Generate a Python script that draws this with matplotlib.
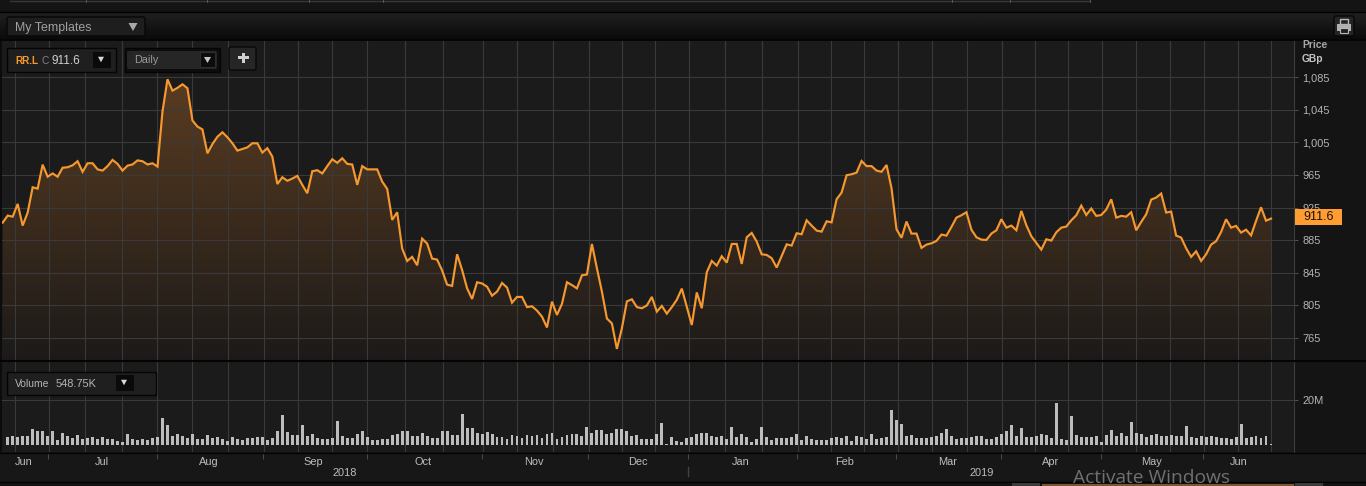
import numpy as np
import matplotlib
matplotlib.use('Agg')
import matplotlib.pyplot as plt
from matplotlib.patches import Rectangle, Polygon, FancyBboxPatch
from matplotlib.ticker import FuncFormatter

plt.rcParams['font.family'] = ['Liberation Sans', 'DejaVu Sans']

# closing prices (GBp)
price_a = [906.7, 915.3, 914, 929.6, 903, 919, 950, 948.4, 977.8, 963, 967, 963, 974, 974.6, 977, 982,
           969, 979.5, 979.5, 972, 970.5, 976, 983.6, 978.7, 970.5, 976.6, 978, 983, 982, 978, 979.5, 975.4,
           1043, 1082.5, 1068.6, 1072, 1076.4, 1071.5, 1032, 1024.5, 1021, 991.7, 1003, 1012, 1017.5, 1011.4,
           1004, 995, 997, 999, 1004, 1004, 992.6, 998, 987.7, 954, 962.3, 958, 960.7, 964, 953, 942.7,
           969.7, 971, 967, 976, 984.4, 980, 985.6, 978.7, 978, 953, 976, 972, 972, 972, 957, 948, 910, 919.4]
price_b = [874.8, 859.6, 864.6, 854.3, 887, 881, 862.5, 861.3, 848, 830.6, 829]
price_c = [867.8, 848.6, 826, 813, 833.5, 832, 828, 817, 822, 832.6, 827, 808.5, 815.5, 815.5, 803, 804,
           798.7, 791.3, 778, 809.7, 793.4, 807, 833.5, 830, 826, 842, 843, 880.5, 850.6, 822, 789, 783,
           751.7, 777, 810, 812.6, 803, 801.6, 805, 815.5, 797.5, 804.4, 795, 803, 812, 825.7, 803.6, 781,
           821, 801.6, 845.7, 859.6, 854, 865.4, 857.6, 880.5, 880.5, 856, 888.7, 894, 883.4, 867.8, 867,
           863, 851.5, 865.8, 880, 878.5, 893.6, 892.4, 909.5, 903, 896.9, 895.6, 908.3, 907, 935.3, 943.5,
           964.8, 966, 968, 982.3, 976, 976, 970.5, 969, 977.4, 948.8, 898.5, 888, 908]
price_d = [893.2, 893.2, 875.6, 879.7, 881.3, 884.2, 892, 890.7, 901.4, 912.8, 915.7, 919.4, 898, 888.7,
           885.8, 885.4, 893.2, 897.3, 910.8, 900.5, 903, 897.3, 921, 903.4, 889.9, 881.7, 873.5, 886.2,
           884.6, 894.8, 900.5, 901.8, 909.5, 915.7, 927.5, 916, 923.9, 914.9, 916, 922.6, 935.3, 912.8,
           914.9, 914, 919.4, 897.3, 907.5, 916.9, 934.9, 937.4, 942.3, 919, 920.2, 890.7, 888.3, 875.2,
           864.6, 871.5, 859.6, 867.8, 879.7, 883.8, 895.2, 910.8, 900.5, 902.6, 894.4, 898, 891, 908.7,
           925.5, 909, 911.6]
prices = price_a + price_b + price_c + price_d

# volume, millions of shares, first bar sits under the second price point
vol_a = [3.4, 4.0, 3.7, 4.0, 4.0, 7.2, 6.4, 6.3, 4.2, 6.4, 2.2, 5.5, 3.9, 3.1, 4.6, 2.5, 3.1, 3.6, 2.8, 3.4,
         2.7, 2.5, 1.9, 1.3, 4.8, 2.8, 2.2, 2.8, 2.2, 3.3, 3.6, 11.9, 8.9, 4.0, 5.1, 4.0, 3.1, 4.8, 2.5, 2.8,
         4.3, 3.0, 3.6, 2.5, 1.9, 3.4, 2.5, 2.1, 3.0, 3.0, 3.6, 3.7, 2.1, 3.0, 6.4, 13.4, 5.8, 4.3, 4.3, 8.8,
         4.0, 5.1, 3.0, 2.7, 2.8, 3.0, 10.7, 3.9, 3.0, 3.1, 5.1, 6.1, 3.4, 2.4, 2.2, 2.5, 2.7, 4.5, 4.9, 6.4,
         6.4, 3.9, 4.0, 5.2, 4.0, 3.3, 3.1, 6.3, 6.4, 4.5]
vol_b = [4.3, 13.7, 7.5, 7.5, 5.4, 4.8, 5.7, 4.9, 3.4, 3.4, 2.8, 4.6, 3.9, 3.0, 4.3, 4.0, 4.3, 3.0, 4.8, 5.4,
         2.7, 3.4, 4.6, 4.8, 4.9, 3.9, 8.0, 5.2, 6.9, 6.7, 4.8, 5.2, 7.2, 7.3, 6.4, 4.0, 4.3, 2.7, 2.5, 2.5,
         4.9, 9.7, 0.4, 3.4, 1.9, 1.3, 3.0, 3.4, 4.9, 5.2, 5.4, 4.0, 3.4, 3.9, 2.5, 7.9, 3.6, 4.8, 3.6, 1.5,
         2.5, 7.9, 3.4, 2.2, 3.0, 3.0, 3.0, 3.6, 4.9, 2.2, 3.9, 2.8, 2.4, 2.2, 2.2, 3.0, 3.7, 3.0, 3.9, 1.9,
         4.0, 3.7, 2.8, 4.9, 2.8, 3.3, 3.4, 15.5, 11.2, 9.4, 4.0]
vol_c = [4.3, 3.1, 3.1, 3.1, 3.4, 3.9, 5.2, 7.2, 4.0, 2.5, 3.0, 3.0, 3.7, 4.2, 4.2, 2.5, 2.5, 3.6, 4.9, 6.4,
         9.1, 4.0, 7.6, 3.7, 3.4, 4.0, 4.8, 4.3, 3.0, 18.6, 2.8, 2.2, 12.8, 4.5, 3.6, 3.4, 3.4, 4.0, 1.5, 4.5,
         6.7, 4.2, 5.4, 4.0, 10.1, 5.4, 4.9, 3.7, 4.3, 5.1, 4.0, 4.0, 4.3, 4.2, 4.0, 8.3, 3.6, 3.3, 4.2, 3.6,
         3.9, 3.6, 3.1, 3.0, 2.5, 3.4, 9.4, 3.0, 3.4, 4.2, 3.3, 4.0, 0.4]
volumes = vol_a + vol_b + vol_c

price_ticks = [765, 805, 845, 885, 925, 965, 1005, 1045, 1085]
# weekly grid and month boundaries, as positions on the trading day axis
grid_days = [2.5, 9.3, 16.5, 23.8, 31, 38, 45.1, 52.4, 59.2, 66, 73, 80.6, 88.2, 96.1, 103, 110.3, 117.5, 124.1,
             130.7, 137.5, 144.7, 152, 159.2, 165.8, 172.4, 179.2, 186.2, 193.2, 200.2, 206.8, 213.4, 220.2,
             227, 233.8, 240.6, 247.3, 254]
month_days = [9.1, 30.9, 52.1, 73, 95.9, 117.2, 137.2, 159, 179, 200, 220, 240.3]
month_label_days = [4.3, 19.8, 41.3, 62.3, 84.2, 106.4, 127.2, 147.9, 168.7, 189.3, 209.8, 230, 247.6]
month_labels = ['Jun', 'Jul', 'Aug', 'Sep', 'Oct', 'Nov', 'Dec', 'Jan', 'Feb', 'Mar', 'Apr', 'May', 'Jun']
year_days = [68.4, 196]
year_labels = ['2018', '2019']

W, H = 1366, 486
ORANGE = '#f7982f'
GRID = '#3a3a3a'
TXT = '#b4b4b4'


def px_axes(x0, y0, x1, y1, **kw):
    # axes from pixel box, y counted from the top
    return fig.add_axes([x0 / W, 1 - y1 / H, (x1 - x0) / W, (y1 - y0) / H], **kw)


fig = plt.figure(figsize=(W / 100, H / 100), dpi=100, facecolor='#141414')
days = np.arange(len(prices))
xlim = (-0.54, 258.6)

# price panel
ax = px_axes(0, 41, 1294, 360, facecolor='#1b1b1b')
ax.set_xlim(xlim)
ax.set_ylim(738.1, 1129.5)
grad = np.linspace(0, 1, 256).reshape(-1, 1)
top_c = np.array([0x5a, 0x3c, 0x21]) / 255
bot_c = np.array([0x1c, 0x1a, 0x19]) / 255
img = ax.imshow((top_c + (bot_c - top_c) * grad).reshape(256, 1, 3), extent=(0, days[-1], 738.1, 1085),
                aspect='auto', origin='upper', zorder=1)
clip = ax.fill_between(days, prices, 738.1, color='none')
img.set_clip_path(clip.get_paths()[0], transform=ax.transData)
ax.set_xlim(xlim)
ax.set_ylim(738.1, 1129.5)
for d in grid_days:
    ax.axvline(d, color=GRID, lw=0.8, zorder=2)
for p in price_ticks:
    ax.axhline(p, color=GRID, lw=0.8, zorder=2)
ax.plot(days, prices, color=ORANGE, lw=1.55, zorder=3, solid_joinstyle='miter')
ax.yaxis.tick_right()
ax.set_yticks(price_ticks)
ax.yaxis.set_major_formatter(FuncFormatter(lambda v, pos: f'{int(v):,}'))
ax.tick_params(axis='y', length=3, width=0.7, color='#555555', labelcolor=TXT, labelsize=7.9, pad=3)
ax.set_xticks([])
for s in ['top', 'left', 'bottom']:
    ax.spines[s].set_visible(False)
ax.spines['right'].set_color('#3c3c3c')
ax.spines['right'].set_linewidth(0.8)

# volume panel
ax2 = px_axes(0, 362, 1294, 452, facecolor='#1b1b1b')
ax2.set_xlim(xlim)
ax2.set_ylim(-3.13, 37.1)
for d in grid_days:
    ax2.axvline(d, color=GRID, lw=0.8, zorder=1)
ax2.axhline(20, color=GRID, lw=0.8, zorder=1)
ax2.bar(np.arange(1, len(volumes) + 1), volumes, width=0.58, color='#bdbdbd', zorder=2)
ax2.yaxis.tick_right()
ax2.set_yticks([20])
ax2.set_yticklabels(['20M'])
ax2.tick_params(axis='y', length=3, width=0.7, color='#555555', labelcolor=TXT, labelsize=7.9, pad=3)
ax2.set_xticks([])
for s in ['top', 'left', 'bottom']:
    ax2.spines[s].set_visible(False)
ax2.spines['right'].set_color('#3c3c3c')
ax2.spines['right'].set_linewidth(0.8)

# date strip
ax3 = px_axes(0, 453, 1366, 481, facecolor='#171717')
ax3.set_xlim(-0.54, -0.54 + 1366 / 4.993)
ax3.set_ylim(28, 0)
ax3.set_yticks([])
ax3.set_xticks(month_days)
ax3.set_xticklabels([])
ax3.tick_params(axis='x', direction='in', top=True, bottom=False, length=4, width=0.7, color='#4a4a4a')
for d, m in zip(month_label_days, month_labels):
    ax3.text(d, 8.5, m, color='#bcbcbc', fontsize=7.9, ha='center', va='center')
for d, y in zip(year_days, year_labels):
    ax3.text(d, 19.5, y, color='#bcbcbc', fontsize=7.9, ha='center', va='center')
ax3.plot([137.2, 137.2], [14, 23], color='#444444', lw=1)
for s in ax3.spines.values():
    s.set_visible(False)

# application chrome, in pixels
ui = fig.add_axes([0, 0, 1, 1], facecolor='none', zorder=5)
ui.set_xlim(0, W)
ui.set_ylim(H, 0)
ui.axis('off')


def box(x0, y0, x1, y1, fc, ec='none', lw=0.8, z=1):
    ui.add_patch(Rectangle((x0, y0), x1 - x0, y1 - y0, fc=fc, ec=ec, lw=lw, zorder=z))


def tri(cx, cy, w, h, c='#cfcfcf'):
    ui.add_patch(Polygon([(cx - w / 2, cy - h / 2), (cx + w / 2, cy - h / 2), (cx, cy + h / 2)], fc=c, ec='none', zorder=4))


# top strip with the tab edges
box(0, 0, W, 12, '#141414')
ui.plot([10, 1090], [1, 1], color='#38383c', lw=1)
for x in [86, 207, 309, 383, 952, 1010, 1090]:
    ui.plot([x, x], [0, 2], color='#55555a', lw=0.7)

# toolbar gradient
ui.imshow(np.linspace(0.125, 0.04, 32).reshape(-1, 1), extent=(0, W, 40, 13), cmap='gray', vmin=0, vmax=1,
          aspect='auto', zorder=0.5)
ui.set_xlim(0, W)
ui.set_ylim(H, 0)
ui.plot([0, W], [12.5, 12.5], color='#000000', lw=1)
ui.plot([0, W], [40.5, 40.5], color='#050505', lw=1.4)

ui.add_patch(FancyBboxPatch((7, 17), 138, 19, boxstyle='round,pad=0,rounding_size=2', fc='#1e1e1e', ec='#050505', lw=0.9, zorder=1))
ui.text(15, 27.5, 'My Templates', color='#a0a0a0', fontsize=8.9, va='center', zorder=4)
tri(133, 27, 9, 8, '#a8a8a8')

# printer button
ui.add_patch(FancyBboxPatch((1334, 16), 20, 20, boxstyle='round,pad=0,rounding_size=2', fc='#242424', ec='#050505', lw=0.9, zorder=1))
box(1340, 19, 1348, 24, 'none', '#b8b8b8', 1, 4)
box(1337, 24, 1351, 31, '#b0b0b0', 'none', 1, 4)
box(1340, 28, 1348, 33, '#222222', '#b8b8b8', 0.8, 4)

# symbol and interval controls
box(6.5, 48.5, 115.5, 72.5, '#1f1f1f', '#050505', 1, 3)
ui.text(15, 61, 'RR.L', color=ORANGE, fontsize=7.2, fontweight='bold', va='center', zorder=4)
ui.text(41, 61, 'C', color='#808080', fontsize=7.4, va='center', zorder=4)
ui.text(51, 60.5, '911.6', color='#d0d0d0', fontsize=8.5, va='center', zorder=4)
box(93, 52, 111, 68, '#0a0a0a', z=3.5)
tri(101, 59.5, 6, 5.5, '#d8d8d8')

box(124.5, 48.5, 219.5, 72.5, '#0d0d0d', '#050505', 1, 3)
ui.add_patch(FancyBboxPatch((127, 51), 90, 18, boxstyle='round,pad=0,rounding_size=2', fc='#262626', ec='none', zorder=3.2))
ui.text(134, 60, 'Daily', color='#9a9a9a', fontsize=7.8, va='center', zorder=4)
box(200, 52, 215, 67, '#0c0c0c', '#333333', 0.6, 3.5)
tri(207.5, 60, 7, 6, '#c4c4c4')

ui.add_patch(FancyBboxPatch((229, 47), 27, 23, boxstyle='round,pad=0,rounding_size=2', fc='#262626', ec='#050505', lw=0.9, zorder=3))
box(237.5, 56.5, 248.5, 59.5, '#d0d0d0', z=4)
box(241.5, 53, 244.5, 63, '#d0d0d0', z=4)

# axis captions and last price flag
ui.text(1302, 45, 'Price', color='#a8a8a8', fontsize=7.4, fontweight='bold', va='center', zorder=4)
ui.text(1302, 59.5, 'GBp', color='#c4c4c4', fontsize=7.4, fontweight='bold', va='center', zorder=4)
box(1295, 209, 1342, 225, '#ff9d33', z=3)
ui.text(1318.5, 217, f'{prices[-1]:.1f}', color='#1a1208', fontsize=9, ha='center', va='center', zorder=4)

# volume control
box(6.5, 371.5, 155.5, 394.5, '#1f1f1f', '#050505', 1, 3)
ui.text(15, 383.5, 'Volume', color='#b4b4b4', fontsize=7.5, va='center', zorder=4)
ui.text(56, 383.5, '548.75K', color='#b4b4b4', fontsize=7.9, va='center', zorder=4)
box(116, 375, 134, 391, '#0a0a0a', z=3.5)
tri(124, 382.5, 6, 5.5, '#d8d8d8')

# panel separators and bottom scrollbar
ui.plot([0, W], [361, 361], color='#040404', lw=1.5)
ui.plot([0, W], [452.5, 452.5], color='#040404', lw=1)
ui.plot([0, W], [481.5, 481.5], color='#040404', lw=1)
box(0, 482, W, H, '#131313')
box(0, 41, 2, 360, '#0c0c0c', z=3)
box(0, 362, 2, 452, '#0c0c0c', z=3)
box(1012, 483, 1040, H, '#3a3a3a', z=2)
box(1042, 484, 1294, H, '#7a5630', z=2)
box(1295, 483, 1323, H, '#3a3a3a', z=2)
ui.text(1073, 478, 'Activate Windows', family='Open Sans', color='#707070', fontsize=13.8, va='center', zorder=6, clip_on=False)

fig.savefig('out.png', dpi=100, facecolor=fig.get_facecolor())
